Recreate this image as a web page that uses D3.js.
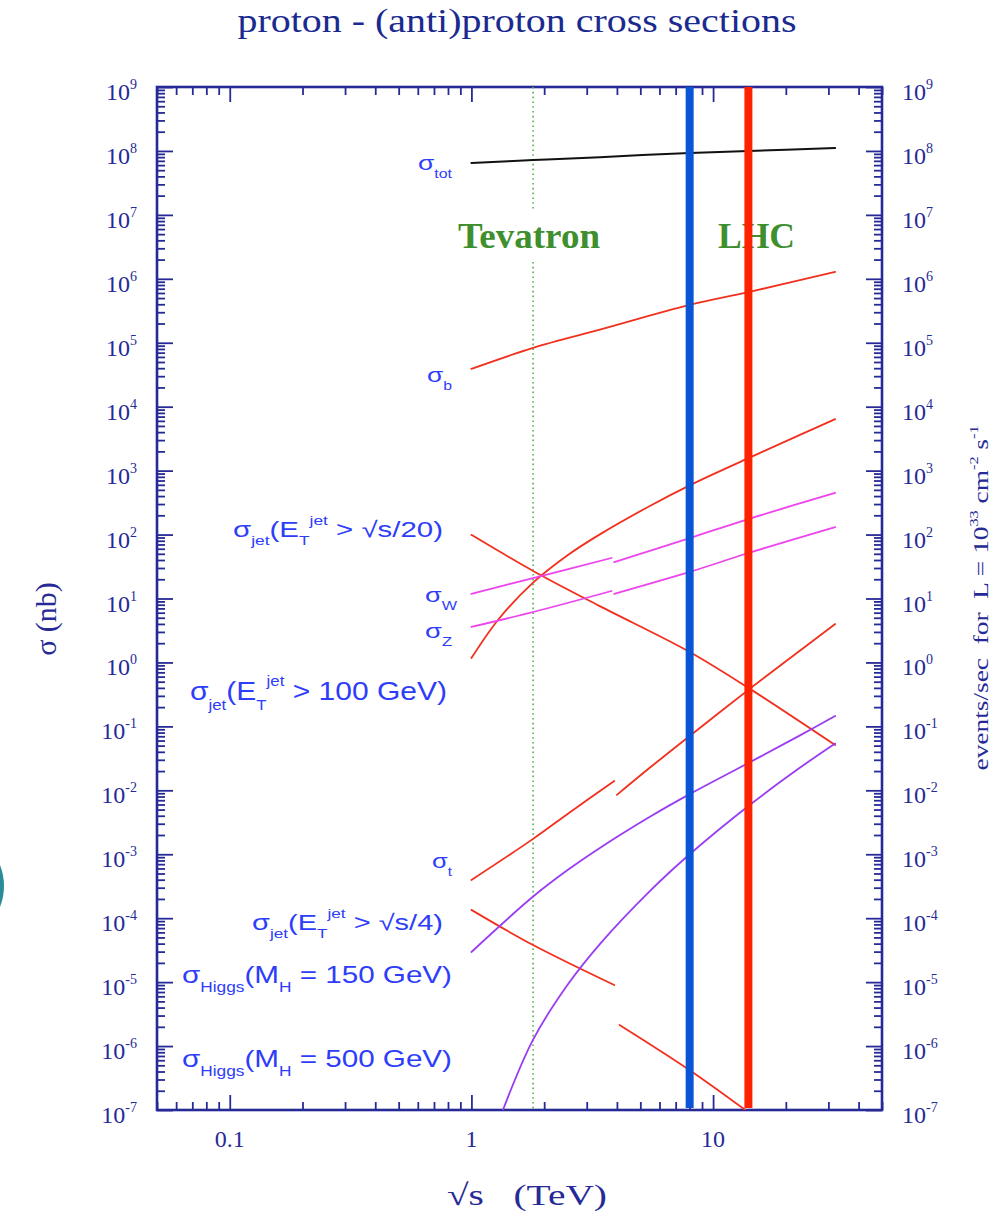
<!DOCTYPE html>
<html>
<head>
<meta charset="utf-8">
<script src="https://cdn.jsdelivr.net/npm/d3@7"></script>
<style>
  html, body { margin: 0; padding: 0; background: #ffffff; }
  svg { display: block; }
</style>
</head>
<body>
<svg id="chart" width="1003" height="1211"></svg>
<script>
// ---- axis ranges and tick labels ----
const xDomain = [0.05, 50];            // sqrt(s) in TeV
const yDomain = [1e-7, 1e9];           // sigma in nb
const xTickValues = [0.1, 1, 10];
const xTickLabels = ["0.1", "1", "10"];
const yExponents = [9, 8, 7, 6, 5, 4, 3, 2, 1, 0, -1, -2, -3, -4, -5, -6, -7];

// ---- collider energies (TeV) ----
const tevatronEnergy = 1.8;
const lhcEnergyLow = 8;
const lhcEnergyDesign = 14;

// ---- cross sections: sqrt(s) [TeV] and sigma [nb] ----
const sqrtS_tot = [1, 1.8, 3.4, 8, 14, 32];
const sigma_tot = [6.5e7, 7.2e7, 8.0e7, 9.3e7, 1.0e8, 1.11e8];

const sqrtS_b = [1, 1.8, 3.4, 8, 14, 32];
const sigma_b = [3.9e4, 8.3e4, 1.6e5, 3.9e5, 6.2e5, 1.28e6];

const sqrtS_jet20 = [1, 1.8, 3.4, 8, 14, 32];
const sigma_jet20 = [99, 27, 7.6, 1.46, 0.40, 0.051];

const sqrtS_jet100 = [1, 1.3, 1.8, 2.5, 3.4, 5.5, 8, 14, 23, 32];
const sigma_jet100 = [1.17, 4.83, 17.7, 47.5, 100.7, 283, 589, 1567, 3648, 6383];

const sqrtS_W_ppbar = [1, 1.8, 3.8];
const sigma_W_ppbar = [11.8, 20.9, 43];
const sqrtS_W_pp = [3.9, 8, 14, 32];
const sigma_W_pp = [37, 88, 175, 447];

const sqrtS_Z_ppbar = [1, 1.8, 3.8];
const sigma_Z_ppbar = [3.6, 6.15, 13.1];
const sqrtS_Z_pp = [3.9, 8, 14, 32];
const sigma_Z_pp = [11.8, 26, 51.5, 131];

const sqrtS_t_ppbar = [1, 1.8, 2.5, 3.9];
const sigma_t_ppbar = [3.96e-4, 1.74e-3, 4.27e-3, 1.4e-2];
const sqrtS_t_pp = [4, 5.5, 8, 14, 23, 32];
const sigma_t_pp = [8.5e-3, 0.0229, 0.0708, 0.372, 1.55, 3.98];

const sqrtS_jet4_ppbar = [1, 1.8, 3.9];
const sigma_jet4_ppbar = [1.35e-4, 3.8e-5, 9e-6];
const sqrtS_jet4_pp = [4.1, 8, 13.6];
const sigma_jet4_pp = [2.14e-6, 4.2e-7, 1e-7];

const sqrtS_H150 = [1, 1.8, 2.5, 3.4, 5.5, 8, 14, 23, 32];
const sigma_H150 = [2.96e-5, 2.18e-4, 5.66e-4, 1.256e-3, 3.89e-3, 8.71e-3, 0.0267, 0.073, 0.145];

const sqrtS_H500 = [1.35, 1.8, 2.5, 3.4, 5.5, 8, 14, 23, 32];
const sigma_H500 = [1e-7, 1.26e-6, 9.08e-6, 3.94e-5, 2.70e-4, 1.0e-3, 5.69e-3, 0.0229, 0.054];

// ---- colours ----
const navy = "#262a96";
const labelBlue = "#2d3dfa";
const curveRed = "#f2301e";
const curveMagenta = "#ee44ee";
const curveViolet = "#9a3cf2";
const green = "#3f8f2f";

const series = [
  { s: sqrtS_tot, v: sigma_tot, color: "#111111", width: 2 },
  { s: sqrtS_b, v: sigma_b, color: curveRed, width: 1.8 },
  { s: sqrtS_jet20, v: sigma_jet20, color: curveRed, width: 1.8 },
  { s: sqrtS_jet100, v: sigma_jet100, color: curveRed, width: 1.8 },
  { s: sqrtS_W_ppbar, v: sigma_W_ppbar, color: curveMagenta, width: 1.8 },
  { s: sqrtS_W_pp, v: sigma_W_pp, color: curveMagenta, width: 1.8 },
  { s: sqrtS_Z_ppbar, v: sigma_Z_ppbar, color: curveMagenta, width: 1.8 },
  { s: sqrtS_Z_pp, v: sigma_Z_pp, color: curveMagenta, width: 1.8 },
  { s: sqrtS_t_ppbar, v: sigma_t_ppbar, color: curveRed, width: 1.8 },
  { s: sqrtS_t_pp, v: sigma_t_pp, color: curveRed, width: 1.8 },
  { s: sqrtS_jet4_ppbar, v: sigma_jet4_ppbar, color: curveRed, width: 1.8 },
  { s: sqrtS_jet4_pp, v: sigma_jet4_pp, color: curveRed, width: 1.8 },
  { s: sqrtS_H150, v: sigma_H150, color: curveViolet, width: 1.8 },
  { s: sqrtS_H500, v: sigma_H500, color: curveViolet, width: 1.8 }
];

// ---- layout ----
const frame = { left: 157, right: 882, top: 87, bottom: 1110 };
const x = d3.scaleLog().domain(xDomain).range([frame.left, frame.right]);
const y = d3.scaleLog().domain(yDomain).range([frame.bottom, frame.top]);

const svg = d3.select("#chart");
const serif = "'Liberation Serif', 'Times New Roman', serif";
const sans = "'Liberation Sans', Arial, sans-serif";

// clipped slide edge at the left border
svg.append("circle").attr("cx", -53).attr("cy", 886).attr("r", 57).attr("fill", "#2a8c98");

// title
svg.append("text")
  .attr("x", 517).attr("y", 32)
  .attr("text-anchor", "middle")
  .attr("font-family", serif).attr("font-size", 34)
  .attr("fill", "#1b2a8f")
  .attr("textLength", 559).attr("lengthAdjust", "spacingAndGlyphs")
  .text("proton - (anti)proton cross sections");

// ---- tick marks ----
const yMajor = yExponents.map(e => Math.pow(10, e));
const yMinor = [];
for (let e = -7; e < 9; e++) for (let k = 2; k <= 9; k++) yMinor.push(k * Math.pow(10, e));
const xMinor = [];
[0.01, 0.1, 1, 10].forEach(base => {
  for (let k = 2; k <= 9; k++) {
    const v = k * base;
    if (v >= xDomain[0] - 1e-9 && v <= xDomain[1] + 1e-9) xMinor.push(v);
  }
});

function ticks(axisGen, translate, values, size) {
  svg.append("g")
    .attr("transform", translate)
    .call(axisGen.tickValues(values).tickSize(size).tickFormat(""))
    .call(g => g.select(".domain").remove())
    .call(g => g.selectAll(".tick line").attr("stroke", navy).attr("stroke-width", 1.8));
}
ticks(d3.axisLeft(y), `translate(${frame.left},0)`, yMajor, -16);
ticks(d3.axisLeft(y), `translate(${frame.left},0)`, yMinor, -8);
ticks(d3.axisRight(y), `translate(${frame.right},0)`, yMajor, -16);
ticks(d3.axisRight(y), `translate(${frame.right},0)`, yMinor, -8);
ticks(d3.axisBottom(x), `translate(0,${frame.bottom})`, xTickValues, -15);
ticks(d3.axisBottom(x), `translate(0,${frame.bottom})`, xMinor, -8);
ticks(d3.axisTop(x), `translate(0,${frame.top})`, xTickValues, -15);
ticks(d3.axisTop(x), `translate(0,${frame.top})`, xMinor, -8);

// frame
svg.append("rect")
  .attr("x", frame.left).attr("y", frame.top)
  .attr("width", frame.right - frame.left).attr("height", frame.bottom - frame.top)
  .attr("fill", "none").attr("stroke", navy).attr("stroke-width", 2.6);

// ---- tick labels ----
function powerLabel(xp, yp, exp, anchor) {
  const t = svg.append("text")
    .attr("x", xp).attr("y", yp)
    .attr("text-anchor", anchor)
    .attr("font-family", serif).attr("font-size", 24).attr("fill", navy);
  t.append("tspan").text("10");
  t.append("tspan").attr("dy", -11).attr("font-size", 14).text(exp < 0 ? "-" + (-exp) : String(exp));
}
yExponents.forEach(e => {
  const yy = y(Math.pow(10, e)) + 13;
  powerLabel(137, yy, e, "end");
  powerLabel(902, yy, e, "start");
});
svg.selectAll(".xlab").data(xTickValues).enter().append("text")
  .attr("class", "xlab")
  .attr("x", d => x(d)).attr("y", 1147)
  .attr("text-anchor", "middle")
  .attr("font-family", serif).attr("font-size", 24).attr("fill", navy)
  .text((d, i) => xTickLabels[i]);

// ---- axis titles ----
svg.append("text")
  .attr("transform", "translate(56,619) rotate(-90)")
  .attr("text-anchor", "middle")
  .attr("font-family", serif).attr("font-size", 30).attr("fill", navy)
  .text("σ (nb)");

svg.append("text")
  .attr("x", 527).attr("y", 1205)
  .attr("text-anchor", "middle")
  .attr("font-family", serif).attr("font-size", 30).attr("fill", navy)
  .style("white-space", "pre")
  .attr("textLength", 160).attr("lengthAdjust", "spacingAndGlyphs")
  .text("√s   (TeV)");

{
  const t = svg.append("text")
    .attr("transform", "translate(988,598) rotate(-90)")
    .attr("text-anchor", "middle")
    .attr("font-family", serif).attr("font-size", 22).attr("fill", navy)
    .style("white-space", "pre")
    .attr("textLength", 345).attr("lengthAdjust", "spacingAndGlyphs");
  t.append("tspan").text("events/sec  for  L = 10");
  t.append("tspan").attr("dy", -10).attr("font-size", 13).text("33");
  t.append("tspan").attr("dy", 10).text(" cm");
  t.append("tspan").attr("dy", -10).attr("font-size", 13).text("-2");
  t.append("tspan").attr("dy", 10).text(" s");
  t.append("tspan").attr("dy", -10).attr("font-size", 13).text("-1");
}

// ---- collider annotations ----
svg.append("text").attr("x", 458).attr("y", 248)
  .attr("font-family", serif).attr("font-size", 36).attr("font-weight", "bold")
  .attr("fill", green).attr("textLength", 142).attr("lengthAdjust", "spacingAndGlyphs")
  .text("Tevatron");
svg.append("text").attr("x", 718).attr("y", 248)
  .attr("font-family", serif).attr("font-size", 36).attr("font-weight", "bold")
  .attr("fill", green).attr("textLength", 77).attr("lengthAdjust", "spacingAndGlyphs")
  .text("LHC");

const tevX = x(tevatronEnergy);
[[frame.top, 210], [262, frame.bottom]].forEach(([y0, y1]) => {
  svg.append("line")
    .attr("x1", tevX).attr("x2", tevX).attr("y1", y0).attr("y2", y1)
    .attr("stroke", "#55b04f").attr("stroke-width", 1.6)
    .attr("stroke-dasharray", "1.6,3.2");
});

// ---- cross-section curves ----
const plotClip = svg.append("clipPath").attr("id", "plotClip");
plotClip.append("rect")
  .attr("x", frame.left).attr("y", frame.top)
  .attr("width", frame.right - frame.left).attr("height", frame.bottom - frame.top);

const line = d3.line()
  .x(d => x(d[0]))
  .y(d => y(d[1]))
  .curve(d3.curveCatmullRom.alpha(0.5));

svg.append("g").attr("clip-path", "url(#plotClip)")
  .selectAll("path").data(series).enter().append("path")
  .attr("d", d => line(d.s.map((s, i) => [s, d.v[i]])))
  .attr("fill", "none")
  .attr("stroke", d => d.color)
  .attr("stroke-width", d => d.width)
  .attr("stroke-linecap", "round");

// ---- LHC energies ----
svg.append("line")
  .attr("x1", x(lhcEnergyLow)).attr("x2", x(lhcEnergyLow))
  .attr("y1", frame.top).attr("y2", frame.bottom - 2)
  .attr("stroke", "#0a55d6").attr("stroke-width", 8);
svg.append("line")
  .attr("x1", x(lhcEnergyDesign)).attr("x2", x(lhcEnergyDesign))
  .attr("y1", frame.top).attr("y2", frame.bottom - 2)
  .attr("stroke", "#ff2200").attr("stroke-width", 8);

// ---- curve labels ----
function curveLabel(x0, y0, parts, size, width) {
  const t = svg.append("text")
    .attr("x", x0).attr("y", y0)
    .attr("font-family", sans).attr("font-size", size)
    .attr("fill", labelBlue)
    .style("white-space", "pre");
  let cur = 0;
  parts.forEach(([str, kind]) => {
    const off = kind === "sub" ? size * 0.38 : kind === "sup" ? -size * 0.55 : 0;
    t.append("tspan")
      .attr("dy", off - cur)
      .attr("font-size", kind === "n" ? size : Math.round(size * 0.58))
      .text(str);
    cur = off;
  });
  if (width) t.attr("textLength", width).attr("lengthAdjust", "spacingAndGlyphs");
}

curveLabel(418, 170, [["σ", "n"], ["tot", "sub"]], 20, 34);
curveLabel(427, 382, [["σ", "n"], ["b", "sub"]], 20, 25);
curveLabel(233, 537, [["σ", "n"], ["jet", "sub"], ["(E", "n"], ["T", "sub"], ["jet", "sup"], [" > √s/20)", "n"]], 22, 210);
curveLabel(425, 602, [["σ", "n"], ["W", "sub"]], 20, 32);
curveLabel(425, 638, [["σ", "n"], ["Z", "sub"]], 20, 27);
curveLabel(190, 700, [["σ", "n"], ["jet", "sub"], ["(E", "n"], ["T", "sub"], ["jet", "sup"], [" > 100 GeV)", "n"]], 25, 257);
curveLabel(432, 868, [["σ", "n"], ["t", "sub"]], 20, 20);
curveLabel(252, 930, [["σ", "n"], ["jet", "sub"], ["(E", "n"], ["T", "sub"], ["jet", "sup"], [" > √s/4)", "n"]], 22, 191);
curveLabel(182, 983, [["σ", "n"], ["Higgs", "sub"], ["(M", "n"], ["H", "sub"], [" = 150 GeV)", "n"]], 24, 270);
curveLabel(182, 1067, [["σ", "n"], ["Higgs", "sub"], ["(M", "n"], ["H", "sub"], [" = 500 GeV)", "n"]], 24, 270);
</script>
</body>
</html>
